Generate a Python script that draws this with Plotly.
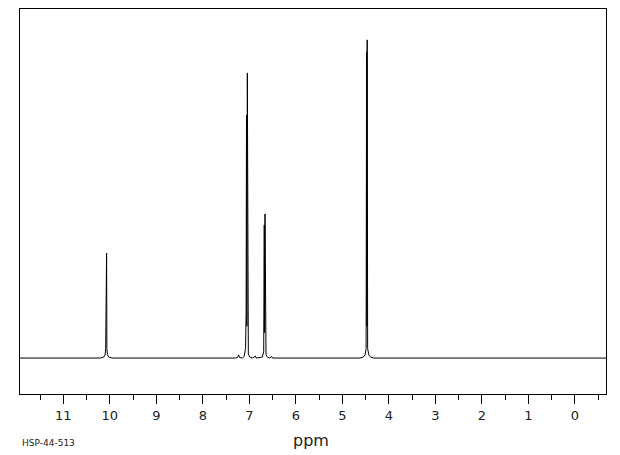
import plotly.graph_objects as go

# Spectrum trace (chemical shift in ppm, relative intensity)
ppm = [12.0, 10.20, 10.13, 10.10, 10.088, 10.082, 10.076, 10.068, 10.062, 10.05, 10.02, 9.95,
       7.30, 7.25, 7.23, 7.21, 7.15, 7.11, 7.08, 7.068, 7.060, 7.052, 7.042, 7.034, 7.02, 6.99,
       6.93, 6.87, 6.85, 6.72, 6.69, 6.678, 6.670, 6.662, 6.654, 6.64, 6.61, 6.56, 6.52, 6.50,
       4.62, 4.55, 4.51, 4.488, 4.478, 4.472, 4.465, 4.455, 4.43, 4.39, 4.32, -0.7]
intensity = [0, 0, 0.3, 1.0, 3, 11.3, 4, 33.0, 3, 1.0, 0.3, 0,
             0, 0.2, 1.0, 0.2, 0, 0.5, 3, 14.2, 76.4, 10, 89.6, 4, 1.2, 0.3,
             0, 0.6, 0, 0.3, 2, 41.8, 8, 45.3, 3, 1, 0.3, 0, 0.5, 0,
             0, 0.3, 1.0, 3, 96.2, 10, 100, 3, 1.0, 0.3, 0, 0]

tick_vals = list(range(0, 12))
tick_text = [str(v) for v in tick_vals]
x_range = [11.93, -0.67]
y_range = [-11.3, 109.7]

fig = go.Figure()
fig.add_trace(go.Scatter(x=ppm, y=intensity, mode="lines",
                         line=dict(color="black", width=1), hoverinfo="skip"))

fig.update_layout(
    width=620, height=455,
    margin=dict(l=20, r=14, t=9, b=61),
    paper_bgcolor="white", plot_bgcolor="white",
    showlegend=False,
    font=dict(family="DejaVu Sans", color="black"),
)
fig.update_xaxes(
    range=x_range, showgrid=False, zeroline=False,
    showline=True, mirror=True, linecolor="black", linewidth=1,
    tickmode="array", tickvals=tick_vals, ticktext=tick_text,
    ticks="outside", ticklen=9, tickwidth=1, tickcolor="black",
    tickfont=dict(size=13, color="#222"),
    minor=dict(dtick=0.5, tick0=0, ticks="outside", ticklen=5, tickwidth=1, tickcolor="black"),
)
fig.update_yaxes(
    range=y_range, showgrid=False, zeroline=False,
    showline=True, mirror=True, linecolor="black", linewidth=1,
    showticklabels=False, ticks="",
)
fig.add_annotation(text="ppm", xref="paper", yref="paper",
                   x=(311 - 20) / 586, y=-(440 - 394) / 385,
                   xanchor="center", yanchor="middle", showarrow=False,
                   font=dict(size=16, color="#222"))
fig.add_annotation(text="HSP-44-513", xref="paper", yref="paper",
                   x=0, y=-(443 - 394) / 385,
                   xanchor="left", yanchor="middle", showarrow=False,
                   font=dict(size=9, color="#222"))

fig.write_html("out.html")
